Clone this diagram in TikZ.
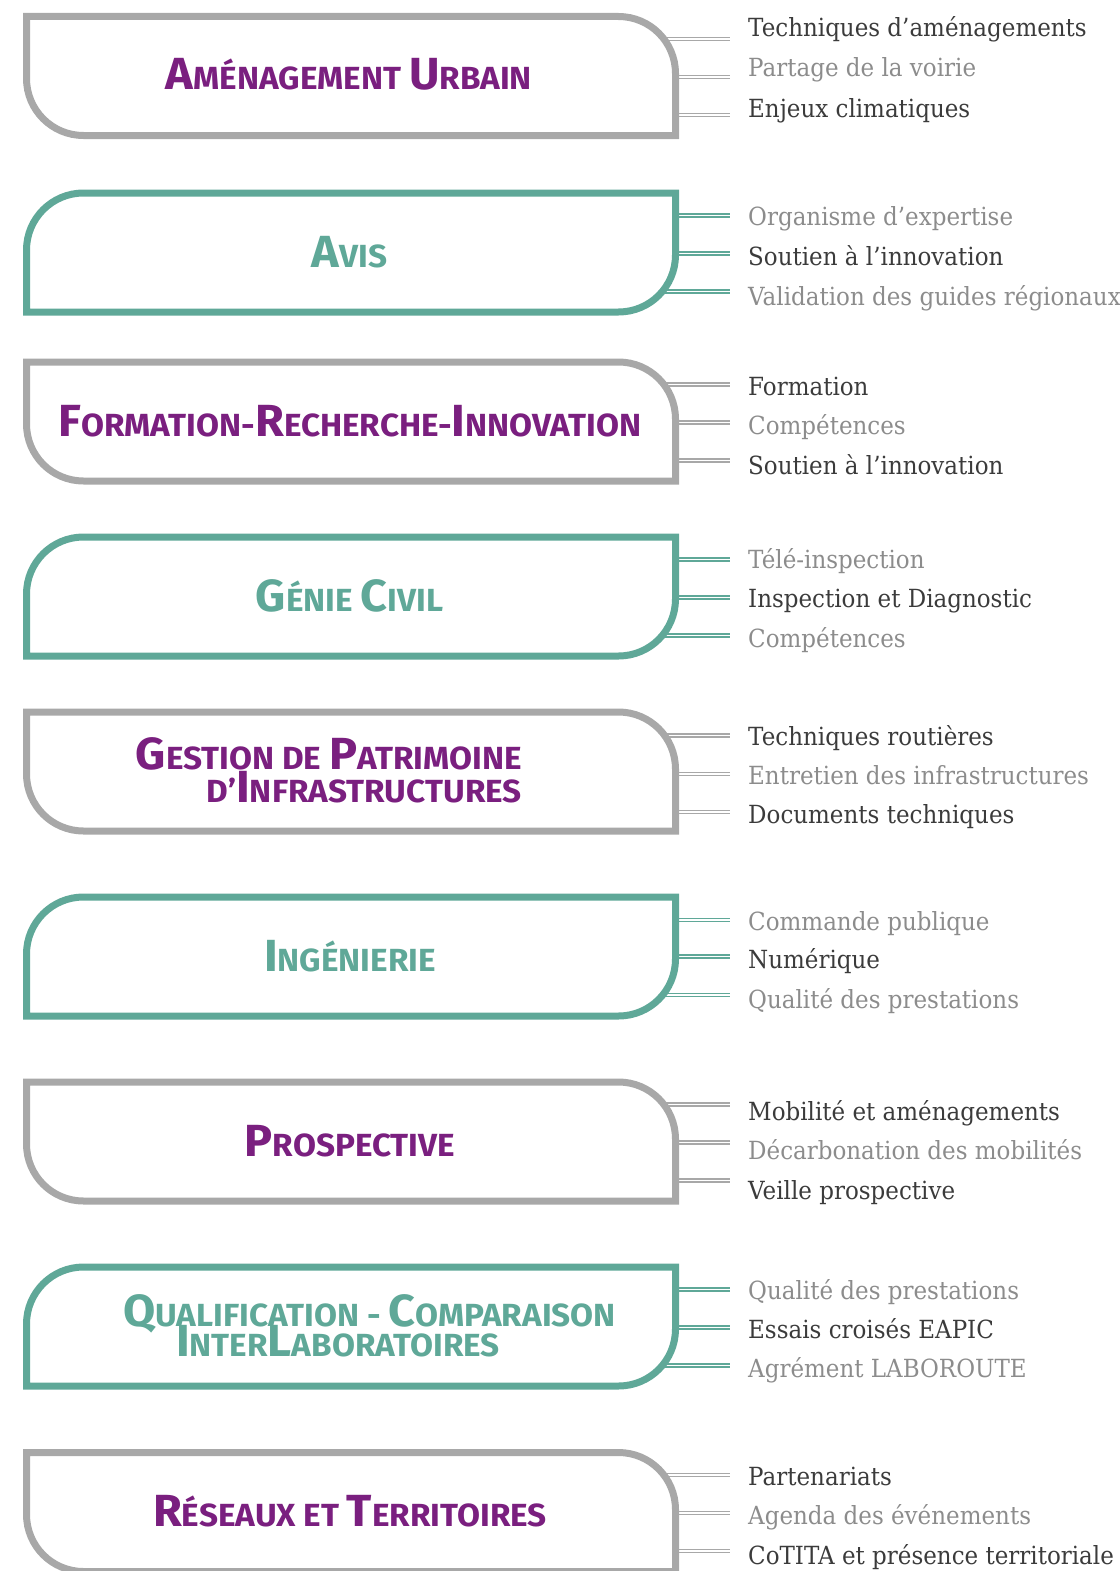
\documentclass[tikz,border=0pt]{standalone}
\usepackage{fontspec}
\usetikzlibrary{calc}
\newfontfamily\titlefont{Fira Sans}[FakeStretch=1.04]
\newfontfamily\itemfont{DejaVu Serif}[FakeStretch=0.92]
\definecolor{boxgrey}{HTML}{A8A8A8}
\definecolor{boxteal}{HTML}{5FA898}
\definecolor{titlepurple}{HTML}{7A1F7F}
\definecolor{txtdark}{HTML}{3B3B3B}
\definecolor{txtlight}{HTML}{8C8C8C}
\newcommand\tk[2]{{\fontsize{45}{45}\selectfont #1}#2}
\newcommand\Rd{57}
\newcommand\Kr{31.5}
\newcommand\greyoutline[1]{%
  \begin{scope}[shift={(#1.center)}]
  \draw[greyline] (-324.5,-59.5) -- (324.5-\Rd,-59.5)
    .. controls (324.5-\Rd+\Kr,-59.5) and (324.5,-59.5+\Rd-\Kr) .. (324.5,-59.5+\Rd)
    -- (324.5,59.5) -- (-324.5+\Rd,59.5)
    .. controls (-324.5+\Rd-\Kr,59.5) and (-324.5,59.5-\Rd+\Kr) .. (-324.5,59.5-\Rd)
    -- cycle;
  \end{scope}}
\newcommand\tealoutline[1]{%
  \begin{scope}[shift={(#1.center)}]
  \draw[tealline] (-324.5,59.5) -- (-324.5,-59.5+\Rd)
    .. controls (-324.5,-59.5+\Rd-\Kr) and (-324.5+\Rd-\Kr,-59.5) .. (-324.5+\Rd,-59.5)
    -- (324.5,-59.5) -- (324.5,59.5-\Rd)
    .. controls (324.5,59.5-\Rd+\Kr) and (324.5-\Rd+\Kr,59.5) .. (324.5-\Rd,59.5)
    -- cycle;
  \end{scope}}
% box, item name, line y, baseline y, connector style, text colour, text
\newcommand\mkitem[7]{%
  \coordinate (#2c) at (730,#3);
  \draw[#5] ($(#1.east |- #2c)+(-45,0)$) -- (#2c);
  \node[itemtxt,text=#6] (#2) at (748,#4) {#7};}
\begin{document}
\begin{tikzpicture}[x=1pt,y=-1pt,
  boxnode/.style={minimum width=649pt,minimum height=119pt,inner sep=0pt,draw=none},
  greyline/.style={draw=boxgrey,line width=7pt,fill=white,line join=miter},
  tealline/.style={draw=boxteal,line width=7pt,fill=white,line join=miter},
  conngrey/.style={draw=boxgrey,double=white,line width=1.4pt,double distance=1.6pt},
  connteal/.style={draw=boxteal,double=white,line width=1.4pt,double distance=1.6pt},
  itemtxt/.style={anchor=base west,inner sep=0pt,font=\itemfont\fontsize{25}{25}\selectfont},
  title/.style={anchor=base,inner sep=0pt,font=\titlefont\bfseries\fontsize{32}{32}\selectfont}]
\useasboundingbox (0,0) rectangle (1119,1571);
\clip (0,0) rectangle (1119,1571);

% ---------- box nodes ----------
\node[boxnode] (b1) at (351,76) {};
\node[boxnode] (b2) at (351,252.5) {};
\node[boxnode] (b3) at (351,421.5) {};
\node[boxnode] (b4) at (351,596.5) {};
\node[boxnode] (b5) at (351,771.5) {};
\node[boxnode] (b6) at (351,956.5) {};
\node[boxnode] (b7) at (351,1141.5) {};
\node[boxnode] (b8) at (351,1326.5) {};
\node[boxnode] (b9) at (351,1512) {};

% ---------- items and connectors ----------
\mkitem{b1}{i1a}{39}{37}{conngrey}{txtdark}{Techniques d’aménagements}
\mkitem{b1}{i1b}{77}{77}{conngrey}{txtlight}{Partage de la voirie}
\mkitem{b1}{i1c}{115}{117}{conngrey}{txtdark}{Enjeux climatiques}

\mkitem{b2}{i2a}{215.5}{225}{connteal}{txtlight}{Organisme d’expertise}
\mkitem{b2}{i2b}{253.5}{265}{connteal}{txtdark}{Soutien à l’innovation}
\mkitem{b2}{i2c}{291.5}{305}{connteal}{txtlight}{Validation des guides régionaux}

\mkitem{b3}{i3a}{384.5}{395}{conngrey}{txtdark}{Formation}
\mkitem{b3}{i3b}{422.5}{434}{conngrey}{txtlight}{Compétences}
\mkitem{b3}{i3c}{460.5}{474}{conngrey}{txtdark}{Soutien à l’innovation}

\mkitem{b4}{i4a}{559.5}{568}{connteal}{txtlight}{Télé-inspection}
\mkitem{b4}{i4b}{597.5}{607}{connteal}{txtdark}{Inspection et Diagnostic}
\mkitem{b4}{i4c}{635.5}{647}{connteal}{txtlight}{Compétences}

\mkitem{b5}{i5a}{735.5}{745}{conngrey}{txtdark}{Techniques routières}
\mkitem{b5}{i5b}{774}{784}{conngrey}{txtlight}{Entretien des infrastructures}
\mkitem{b5}{i5c}{812}{823}{conngrey}{txtdark}{Documents techniques}

\mkitem{b6}{i6a}{920}{930}{connteal}{txtlight}{Commande publique}
\mkitem{b6}{i6b}{956.5}{968}{connteal}{txtdark}{Numérique}
\mkitem{b6}{i6c}{995}{1008}{connteal}{txtlight}{Qualité des prestations}

\mkitem{b7}{i7a}{1104.5}{1120}{conngrey}{txtdark}{Mobilité et aménagements}
\mkitem{b7}{i7b}{1142.5}{1159}{conngrey}{txtlight}{Décarbonation des mobilités}
\mkitem{b7}{i7c}{1180.5}{1199}{conngrey}{txtdark}{Veille prospective}

\mkitem{b8}{i8a}{1289.5}{1299}{connteal}{txtlight}{Qualité des prestations}
\mkitem{b8}{i8b}{1327.5}{1338}{connteal}{txtdark}{Essais croisés EAPIC}
\mkitem{b8}{i8c}{1365.5}{1377}{connteal}{txtlight}{Agrément LABOROUTE}

\mkitem{b9}{i9a}{1475}{1485}{conngrey}{txtdark}{Partenariats}
\mkitem{b9}{i9b}{1513}{1524}{conngrey}{txtlight}{Agenda des événements}
\mkitem{b9}{i9c}{1551}{1564}{conngrey}{txtdark}{CoTITA et présence territoriale}

% ---------- box outlines ----------
\greyoutline{b1}
\tealoutline{b2}
\greyoutline{b3}
\tealoutline{b4}
\greyoutline{b5}
\tealoutline{b6}
\greyoutline{b7}
\tealoutline{b8}
\greyoutline{b9}

% ---------- titles ----------
\node[title,text=titlepurple] (t1) at (349,89) {\tk{A}{MÉNAGEMENT} \tk{U}{RBAIN}};
\node[title,text=boxteal] (t2) at (349.5,267) {\tk{A}{VIS}};
\node[title,text=titlepurple] (t3) at (350,436) {\tk{F}{ORMATION}-\tk{R}{ECHERCHE}-\tk{I}{NNOVATION}};
\node[title,text=boxteal] (t4) at (349.5,611) {\tk{G}{ÉNIE} \tk{C}{IVIL}};
\node[title,text=titlepurple,anchor=base east] (t5a) at (522,769) {\tk{G}{ESTION} DE \tk{P}{ATRIMOINE}};
\node[title,text=titlepurple,anchor=base east] (t5b) at (522,802) {D’\tk{I}{NFRASTRUCTURES}};
\node[title,text=boxteal] (t6) at (350,971) {\tk{I}{NGÉNIERIE}};
\node[title,text=titlepurple] (t7) at (350,1156) {\tk{P}{ROSPECTIVE}};
\node[title,text=boxteal,anchor=base west] (t8a) at (123,1326) {\tk{Q}{UALIFICATION} - \tk{C}{OMPARAISON}};
\node[title,text=boxteal,anchor=base west] (t8b) at (176,1356) {\tk{I}{NTER}\tk{L}{ABORATOIRES}};
\node[title,text=titlepurple] (t9) at (350,1526) {\tk{R}{ÉSEAUX} ET \tk{T}{ERRITOIRES}};
\end{tikzpicture}
\end{document}
